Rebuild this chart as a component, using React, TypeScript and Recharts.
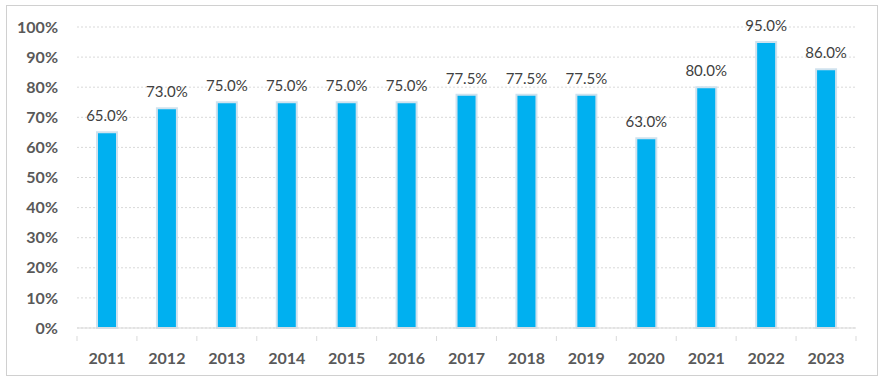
import React from 'react';
import { BarChart, Bar, XAxis, YAxis, CartesianGrid, LabelList } from 'recharts';

// years on the x axis
const years = ['2011', '2012', '2013', '2014', '2015', '2016', '2017', '2018', '2019', '2020', '2021', '2022', '2023'];
// share per year, in percent
const values = [65.0, 73.0, 75.0, 75.0, 75.0, 75.0, 77.5, 77.5, 77.5, 63.0, 80.0, 95.0, 86.0];
// y axis ticks
const yTicks = [0, 10, 20, 30, 40, 50, 60, 70, 80, 90, 100];

const data = years.map((year, i) => ({ year, value: values[i] }));

const W = 884;
const H = 383;
const xAxisHeight = 30;
const margin = { top: 27, right: 28, bottom: 55 - xAxisHeight, left: 0 };
const yAxisWidth = 77;
const plotWidth = W - margin.left - margin.right - yAxisWidth;
const band = plotWidth / years.length;

const FONT = 'Lato, "Open Sans", sans-serif';

// category label plus the small tick marks at the band edges
const YearTick = (props: any) => {
  const { x, y, payload, index } = props;
  const left = x - band / 2;
  const right = x + band / 2;
  return (
    <g>
      <line x1={left} y1={y} x2={left} y2={y + 5} stroke="#d9d9d9" />
      {index === years.length - 1 && (
        <line x1={right} y1={y} x2={right} y2={y + 5} stroke="#d9d9d9" />
      )}
      <text
        x={x}
        y={y + 17}
        dy="0.71em"
        textAnchor="middle"
        fontFamily={FONT}
        fontWeight="bold"
        fontSize={16}
        fill="#595959"
      >
        {payload.value}
      </text>
    </g>
  );
};

export default function App() {
  return (
    <div style={{ position: 'absolute', left: 0, top: 0, width: W, height: H, background: '#fff' }}>
      <BarChart width={W} height={H} data={data} margin={margin} barSize={20}>
        <CartesianGrid vertical={false} stroke="#d9d9d9" strokeDasharray="2 2" />
        <XAxis
          dataKey="year"
          height={xAxisHeight}
          axisLine={{ stroke: '#d9d9d9' }}
          tickLine={false}
          tick={<YearTick />}
          interval={0}
        />
        <YAxis
          width={yAxisWidth}
          domain={[0, 100]}
          ticks={yTicks}
          axisLine={false}
          tickLine={false}
          tickSize={0}
          tickMargin={19}
          tickFormatter={(v: number) => `${v}%`}
          tick={{ fontFamily: FONT, fontWeight: 'bold', fontSize: 16, fill: '#595959' }}
        />
        <Bar dataKey="value" fill="#00b0f0" stroke="#cfe2ee" strokeWidth={2} isAnimationActive={false}>
          <LabelList
            dataKey="value"
            position="top"
            offset={11}
            formatter={(v: number) => `${v.toFixed(1)}%`}
            style={{ fontFamily: FONT, fontSize: 15, fill: '#404040' }}
          />
        </Bar>
      </BarChart>
      <div
        style={{
          position: 'absolute',
          left: 6,
          top: 5,
          width: 872,
          height: 371,
          boxSizing: 'border-box',
          border: '1px solid #d0d0d0',
          pointerEvents: 'none',
          zIndex: 5,
        }}
      />
    </div>
  );
}
